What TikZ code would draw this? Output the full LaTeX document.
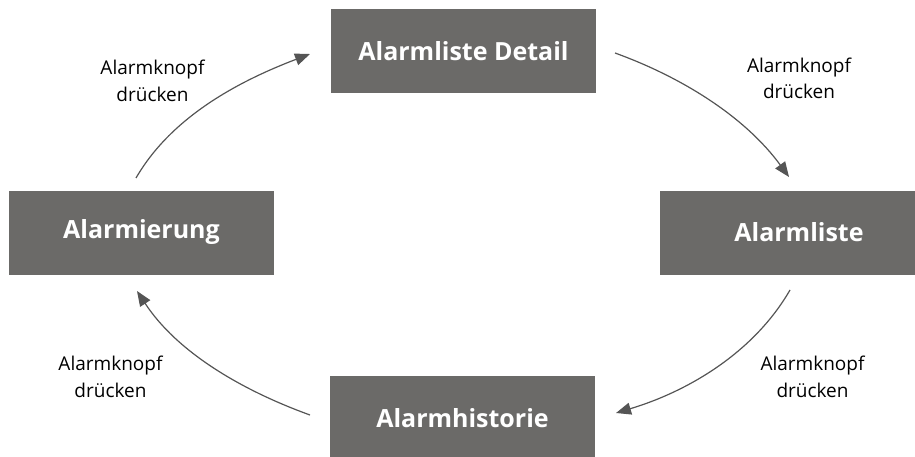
\documentclass[tikz,border=0pt]{standalone}
\usepackage{fontspec}
\setmainfont{Open Sans}
\usetikzlibrary{arrows.meta}
\definecolor{boxgray}{RGB}{107,106,104}
\definecolor{arrowgray}{RGB}{85,85,85}
\begin{document}
\begin{tikzpicture}[x=1pt,y=1pt,
  statebox/.style={fill=boxgray,draw=none,text=white,minimum width=265pt,minimum height=84pt,inner sep=0pt,
    font=\fontsize{25}{29}\selectfont\bfseries},
  lbl/.style={align=center,anchor=base,inner sep=0pt,font=\fontsize{19}{26.5}\selectfont,text=black},
  conn/.style={draw=arrowgray,line width=1.2pt,-{Triangle[length=15pt,width=12pt]}}]
\useasboundingbox (0,0) rectangle (915,456);
\node[statebox] (detail) at (463.5,405) {Alarmliste Detail};
\node[statebox] (alarmierung) at (141.5,223.5) {Alarmierung};
\node[statebox,minimum width=278pt] (liste) at (799,223.5) {Alarmliste};
\node[statebox] (historie) at (462.5,38) {Alarmhistorie};
\coordinate (s1) at (136,278);
\coordinate (e1) at (310,402);
\coordinate (s2) at (615,403);
\coordinate (e2) at (789,279);
\coordinate (s3) at (790,166);
\coordinate (e3) at (616,43);
\coordinate (s4) at (310,41);
\coordinate (e4) at (137,165);
\draw[conn] (s1) .. controls (172.5,341) and (242,376) .. (e1);
\draw[conn] (s2) .. controls (684,378) and (746,338) .. (e2);
\draw[conn] (s3) .. controls (753,102) and (686,64) .. (e3);
\draw[conn] (s4) .. controls (241,66) and (177,104) .. (e4);
\node[lbl] (l1) at (152.5,354.5) {Alarmknopf\\drücken};
\node[lbl] (l2) at (799,357) {Alarmknopf\\drücken};
\node[lbl] (l3) at (812.5,59) {Alarmknopf\\drücken};
\node[lbl] (l4) at (110.5,59) {Alarmknopf\\drücken};
\end{tikzpicture}
\end{document}
